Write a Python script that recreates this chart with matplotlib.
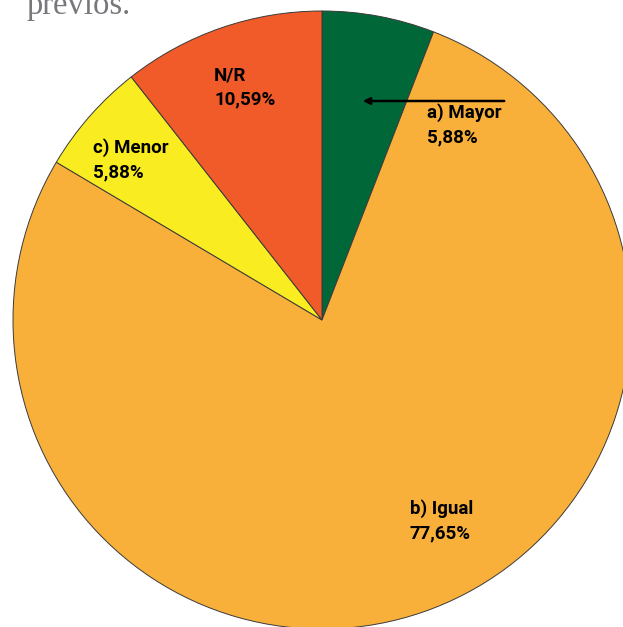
import matplotlib.pyplot as plt

# Respuestas y porcentajes
categorias = ["a) Mayor", "b) Igual", "c) Menor", "N/R"]
porcentajes = [5.88, 77.65, 5.88, 10.59]
colores = ["#006838", "#F9B03B", "#F9EC20", "#F15A29"]

W, H = 623, 627
fig = plt.figure(figsize=(W / 100, H / 100), dpi=100)
ax = fig.add_axes([0, 0, 1, 1])

# centro y radio en pixeles (y hacia arriba)
cx, cy, r = 322, H - 320, 309

ax.pie(porcentajes, colors=colores, startangle=90, counterclock=False,
       center=(cx, cy), radius=r,
       wedgeprops=dict(edgecolor="#3a3a3a", linewidth=0.7))
ax.set_xlim(0, W)
ax.set_ylim(0, H)
ax.set_aspect("equal")
ax.axis("off")


def fmt(v):
    return f"{v:.2f}".replace(".", ",") + "%"


# posicion (x izquierda, y de la primera linea) de cada etiqueta
pos_etiquetas = {
    "a) Mayor": (427, 113),
    "b) Igual": (410, 509),
    "c) Menor": (93, 148),
    "N/R": (214, 75),
}
for cat, val in zip(categorias, porcentajes):
    x, y = pos_etiquetas[cat]
    ax.text(x, H - y, cat, ha="left", va="center",
            fontsize=13.5, fontweight="bold", family="Roboto", color="black")
    ax.text(x, H - y - 24, fmt(val), ha="left", va="center",
            fontsize=13.5, fontweight="bold", family="Roboto", color="black")

# flecha hacia la porcion verde
ax.annotate("", xy=(360, H - 101), xytext=(507, H - 101),
            arrowprops=dict(arrowstyle="-|>", color="black", lw=1.8,
                            mutation_scale=10))

# texto del parrafo cortado arriba
fig.text(27 / W, 1 - 14 / H, "previos.", ha="left", va="baseline",
         fontsize=23.5, family="Liberation Serif", color="#77787b")

fig.savefig("out.png", dpi=100)
